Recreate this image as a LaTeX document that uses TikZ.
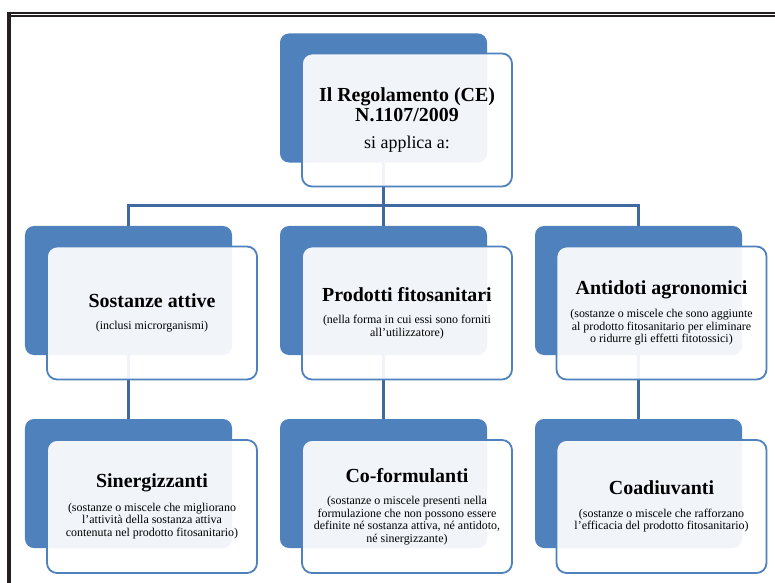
\documentclass[tikz,border=0pt]{standalone}
\usepackage{fontspec}
\setmainfont{Liberation Serif}
\usetikzlibrary{calc}
\definecolor{accent}{HTML}{4F81BD}
\definecolor{conn}{HTML}{41699F}
\definecolor{framec}{HTML}{231F20}
\newcommand\hdtxt[1]{{\fontsize{20}{20}\selectfont\bfseries #1}}
\begin{document}
\begin{tikzpicture}[x=1bp,y=-1bp,
  backbox/.style={fill=accent, draw=none, rounded corners=9bp, minimum width=207bp, minimum height=129bp, inner sep=0pt},
  frontbox/.style={draw=accent, line width=1.8bp, fill=white, fill opacity=0.92, text opacity=1, rounded corners=10bp, minimum width=210bp, minimum height=133bp, inner sep=0pt, align=center, font=\fontsize{12}{12.5}\selectfont, text=black},
  titlebox/.style={frontbox, font=\fontsize{20}{20}\selectfont},
  link/.style={draw=conn, line width=2.4bp},
  borderline/.style={draw=framec}
]
\useasboundingbox (0,0) rectangle (775,583);

% frame
\draw[borderline, line width=1.4bp] (7,13) -- (775,13);
\draw[borderline, line width=1.7bp] (11,15.8) -- (775,15.8);
\draw[borderline, line width=3.7bp] (9.2,12.3) -- (9.2,583);

% back boxes
\node[backbox] (tb) at (383.5,98) {};
\node[backbox] (s1b) at (128.5,290.5) {};
\node[backbox] (s2b) at (383.5,290.5) {};
\node[backbox] (s3b) at (638.5,290.5) {};
\node[backbox] (b1b) at (128.5,483.5) {};
\node[backbox] (b2b) at (383.5,483.5) {};
\node[backbox] (b3b) at (638.5,483.5) {};

% connectors
\coordinate (bar) at (383.5,205.5);
\draw[link] (tb.south) -- (s2b.north);
\draw[link] (s1b.north) |- (bar) -| (s3b.north);
\draw[link] (s1b.south) -- (b1b.north);
\draw[link] (s2b.south) -- (b2b.north);
\draw[link] (s3b.south) -- (b3b.north);

% front boxes
\node[titlebox] (t) at (407,120) {\textbf{Il Regolamento (CE)}\\ \textbf{N.1107/2009}\\[8pt] {\fontsize{18}{20}\selectfont si applica a:}};
\node[frontbox] (s1) at (152,313) {\hdtxt{Sostanze attive}\\[10pt] (inclusi microrganismi)};
\node[frontbox] (s2) at (407,313) {\hdtxt{Prodotti fitosanitari}\\[10pt] (nella forma in cui essi sono forniti\\ all’utilizzatore)};
\node[frontbox] (s3) at (661.5,313) {\hdtxt{Antidoti agronomici}\\[10pt] (sostanze o miscele che sono aggiunte\\ al prodotto fitosanitario per eliminare\\ o ridurre gli effetti fitotossici)};
\node[frontbox] (b1) at (152,506.5) {\hdtxt{Sinergizzanti}\\[10pt] (sostanze o miscele che migliorano\\ l’attività della sostanza attiva\\ contenuta nel prodotto fitosanitario)};
\node[frontbox] (b2) at (407,506.5) {\hdtxt{Co-formulanti}\\[10pt] (sostanze o miscele presenti nella\\ formulazione che non possono essere\\ definite né sostanza attiva, né antidoto,\\ né sinergizzante)};
\node[frontbox] (b3) at (661.5,506.5) {\hdtxt{Coadiuvanti}\\[10pt] (sostanze o miscele che rafforzano\\ l’efficacia del prodotto fitosanitario)};
\end{tikzpicture}
\end{document}
